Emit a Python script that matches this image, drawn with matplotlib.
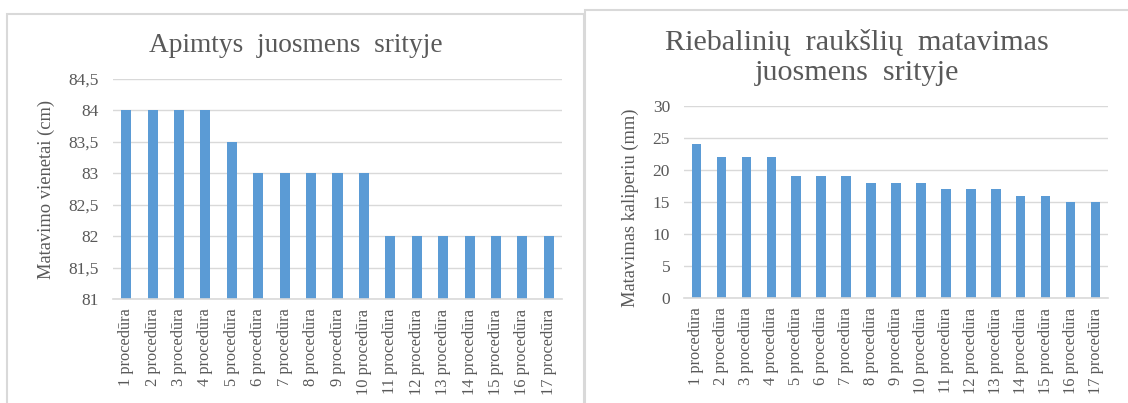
import matplotlib
matplotlib.use("Agg")
import matplotlib.pyplot as plt
from matplotlib.patches import Rectangle

# Data
categories = [f"{i} procedūra" for i in range(1, 18)]
waist_cm = [84, 84, 84, 84, 83.5, 83, 83, 83, 83, 83, 82, 82, 82, 82, 82, 82, 82]
skinfold_mm = [24, 22, 22, 22, 19, 19, 19, 18, 18, 18, 17, 17, 17, 16, 16, 15, 15]
waist_ticks = [81, 81.5, 82, 82.5, 83, 83.5, 84, 84.5]
skinfold_ticks = [0, 5, 10, 15, 20, 25, 30]

W, H = 1128, 403
BAR = "#5B9BD5"
GRID = "#D9D9D9"
TXT = "#595959"
FONT = ["Liberation Serif", "DejaVu Serif"]

plt.rcParams["font.family"] = FONT

fig = plt.figure(figsize=(W / 100, H / 100), dpi=100)


def px_axes(x0, y0, x1, y1):
    return fig.add_axes([x0 / W, 1 - y1 / H, (x1 - x0) / W, (y1 - y0) / H])


def frame(x0, y0, x1, y1):
    fig.patches.append(Rectangle((x0 / W, 1 - y1 / H), (x1 - x0) / W, (y1 - y0) / H,
                                 transform=fig.transFigure, fill=False,
                                 edgecolor=GRID, linewidth=1.5))


def style(ax, values, ticks, fmt, ylabel, label_xy):
    x = range(len(categories))
    ax.bar(x, values, width=0.38, color=BAR, zorder=2)
    ax.set_xlim(-0.5, len(categories) - 0.5)
    ax.set_ylim(ticks[0], ticks[-1])
    ax.set_yticks(ticks)
    ax.set_yticklabels([fmt(t) for t in ticks])
    ax.set_xticks(list(x))
    ax.set_xticklabels(categories, rotation=90, va="top", ha="center")
    ax.tick_params(axis="both", length=0, colors=TXT)
    ax.tick_params(axis="x", pad=7, labelsize=11.8)
    ax.tick_params(axis="y", pad=10, labelsize=12.5)
    ax.grid(axis="y", color=GRID, linewidth=1, zorder=0)
    for s in ("top", "right", "left"):
        ax.spines[s].set_visible(False)
    ax.spines["bottom"].set_color(GRID)
    ax.spines["bottom"].set_linewidth(1.2)
    ax.set_ylabel(ylabel, color=TXT, fontsize=13.3)
    ax.yaxis.set_label_coords(*label_xy)


def comma(t):
    s = f"{t:g}"
    return s.replace(".", ",")


# Panel frames
frame(7, 14, 584, 410)
frame(585, 10, 1135, 410)

# Left chart
ax1 = px_axes(113, 79, 562, 299)
style(ax1, waist_cm, waist_ticks, comma, "Matavimo vienetai (cm)", (-0.13, 0.5))
fig.text(296 / W, 1 - 45 / H, "Apimtys  juosmens  srityje", ha="center", va="center",
         fontsize=19.7, color=TXT)

# Right chart
ax2 = px_axes(684, 106, 1108, 298)
style(ax2, skinfold_mm, skinfold_ticks, comma, "Matavimas kaliperiu (mm)", (-0.105, 0.47))
fig.text(857 / W, 1 - 58 / H, "Riebalinių  raukšlių  matavimas\njuosmens  srityje",
         ha="center", va="center", fontsize=21.7, color=TXT, linespacing=1.2)

fig.savefig("out.png", dpi=100)
